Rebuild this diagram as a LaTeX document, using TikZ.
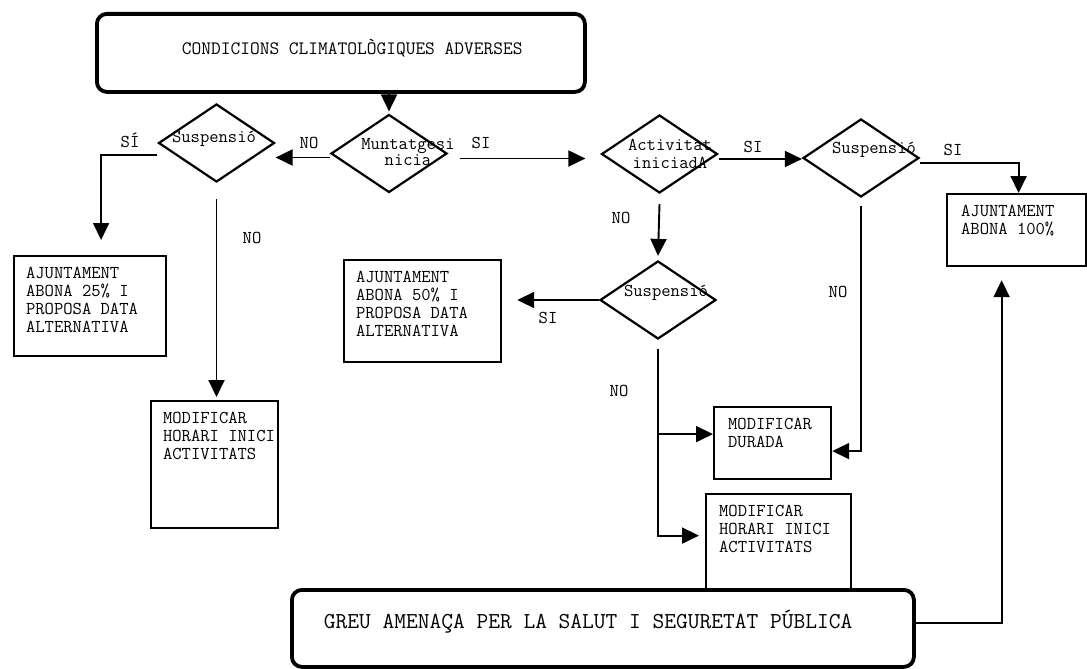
\documentclass[tikz,border=0pt]{standalone}
\usepackage{fontspec}
\usetikzlibrary{arrows.meta,shapes.geometric}
\newcommand{\boxfont}{\ttfamily\fontsize{18.1}{18}\selectfont}
\newcommand{\diafont}{\ttfamily\fontsize{18.1}{16}\selectfont}
\newcommand{\topfont}{\ttfamily\fontsize{18.9}{20}\selectfont}
\newcommand{\greufont}{\ttfamily\fontsize{22.8}{24}\selectfont}
\newcommand{\dtxt}[3]{\smash{\makebox[0pt]{\hspace*{#1}\raisebox{#2}{#3}}}}
\newcommand{\btxt}[5]{\parbox[c][#2][t]{#1}{\hspace*{#3}\begin{tabular}[t]{@{}l@{}}\rule{0pt}{#4}#5\end{tabular}}}
\tikzset{
  rbox/.style={draw, line width=3.8pt, rounded corners=10pt, inner sep=0pt, anchor=north west, fill=white},
  sbox/.style={draw, line width=2.2pt, inner sep=0pt, anchor=north west, font=\boxfont, fill=white},
  dia/.style={draw, diamond, line width=2.2pt, minimum width=116pt, minimum height=78pt, inner sep=0pt, font=\diafont},
  lbl/.style={font=\diafont, inner sep=0pt, anchor=base},
  arr/.style={line width=1.9pt, -{Triangle[length=17pt,width=16pt]}},
}
\begin{document}
\begin{tikzpicture}[x=1pt,y=-1pt]
\useasboundingbox (0,0) rectangle (1087,669);
\fill[white] (0,0) rectangle (1087,669);

% boxes
\node[rbox, font=\topfont] (top) at (95,12) {\btxt{488pt}{78pt}{85pt}{40.8pt}{CONDICIONS CLIMATOLÒGIQUES ADVERSES}};
\node[sbox] (b25) at (13,255) {\btxt{152pt}{100pt}{12pt}{22.5pt}{AJUNTAMENT\\ABONA 25\% I\\PROPOSA DATA\\ALTERNATIVA}};
\node[sbox] (b50) at (343,259) {\btxt{157pt}{102pt}{12pt}{22.5pt}{AJUNTAMENT\\ABONA 50\% I\\PROPOSA DATA\\ALTERNATIVA}};
\node[sbox] (h1) at (150,400) {\btxt{127pt}{127pt}{12pt}{22.5pt}{MODIFICAR\\HORARI INICI\\ACTIVITATS}};
\node[sbox] (a100) at (946,193) {\btxt{139pt}{72pt}{14pt}{22.5pt}{AJUNTAMENT\\ABONA 100\%}};
\node[sbox] (dur) at (713,406) {\btxt{117pt}{72pt}{14pt}{22.5pt}{MODIFICAR\\DURADA}};
\node[sbox] (h2) at (705,493) {\btxt{145pt}{97pt}{13pt}{22.5pt}{MODIFICAR\\HORARI INICI\\ACTIVITATS}};
\node[rbox, font=\greufont] (greu) at (290,588) {\btxt{622pt}{77pt}{32pt}{39pt}{GREU AMENAÇA PER LA SALUT I SEGURETAT PÚBLICA}};

% diamonds
\node[dia] (S1) at (216.5,143) {\dtxt{-5pt}{0.5pt}{Suspensió}};
\node[dia] (M) at (389,153.5) {\dtxt{38pt}{-12pt}{\begin{tabular}[b]{@{}c@{}}Muntatgesi\\nicia\end{tabular}}};
\node[dia] (A) at (659.5,154) {\dtxt{21pt}{-14.5pt}{\begin{tabular}[b]{@{}c@{}}Activitat\\[2pt]iniciadA\end{tabular}}};
\node[dia] (S2) at (861,158) {\dtxt{26pt}{4.5pt}{Suspensió}};
\node[dia] (S3) at (658,300) {\dtxt{16pt}{3.5pt}{Suspensió}};

% labels
\node[lbl] (l1) at (130,147.5) {SÍ};
\node[lbl] (l2) at (309,148.5) {NO};
\node[lbl] (l3) at (481,148.5) {SI};
\node[lbl] (l4) at (252,243.5) {NO};
\node[lbl] (l5) at (621,223.5) {NO};
\node[lbl] (l6) at (753,152.5) {SI};
\node[lbl] (l7) at (953,155.5) {SI};
\node[lbl] (l8) at (838,297.5) {NO};
\node[lbl] (l9) at (548,323.5) {SI};
\node[lbl] (l10) at (619,396.5) {NO};

% connectors
\draw[arr, shorten >=2pt] (top.south -| M.north) -- (M.north);
\coordinate (c1) at ([yshift=-4pt]M.west);
\draw[arr] (c1) -- (c1 -| S1.east);
\draw[arr] ([yshift=-12pt]S1.west) -| ([shift={(11pt,15pt)}]b25.north);
\draw[arr, shorten >=3pt] ([yshift=-16pt]S1.south) -- (S1.south |- h1.north);
\coordinate (c2) at ([shift={(12pt,-5pt)}]M.east);
\draw[arr, shorten >=15pt] (c2) -- (c2 -| A.west);
\coordinate (c3) at ([yshift=-5pt]A.east);
\draw[arr] (c3) -- (c3 -| S2.west);
\draw[arr] ([yshift=-5pt]S2.east) -| ([xshift=2pt]a100.north);
\draw[arr] ([yshift=-10pt]A.south) -- ([yshift=4pt]S3.north);
\draw[arr, shorten >=15pt] (S3.west) -- (S3.west -| b50.east);
\draw[arr] ([yshift=-8pt]S2.south) |- ([yshift=-8pt]dur.east);
\draw[arr, shorten >=6pt] ([yshift=-9pt]S3.south) |- ([yshift=7pt]h2.west);
\coordinate (c4) at ([yshift=9pt]dur.west);
\draw[arr] (S3.south |- c4) -- (c4);
\draw[arr, shorten >=13pt] ([yshift=5pt]greu.east) -| ([xshift=-15pt]a100.south);
\end{tikzpicture}
\end{document}
